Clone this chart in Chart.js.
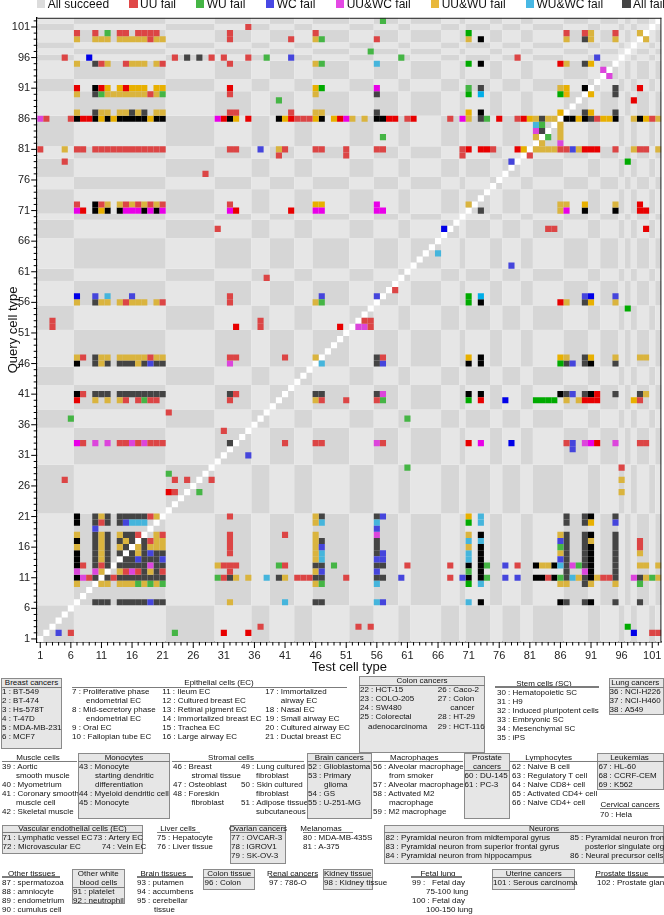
<!DOCTYPE html>
<html>
<head>
<meta charset="utf-8">
<script src="https://cdn.jsdelivr.net/npm/chart.js@4.4.1/dist/chart.umd.min.js"></script>
<style>
  html, body { margin: 0; padding: 0; background: #fff; }
  body { width: 664px; height: 915px; overflow: hidden; position: relative; font-family: 'Liberation Sans', Arial, sans-serif; }
  #chartBox { position: absolute; left: 0; top: 0; width: 664px; height: 679px; }
  .abs { position: absolute; white-space: pre; }
  .leg { font-size: 12px; line-height: 12px; color: #111; }
  .gl { font-size: 8px; line-height: 10px; color: #111; }
  .gbox { position: absolute; box-sizing: border-box; background: #e6e6e6; border: 1px solid #8a8a8a; }
  .gline { position: absolute; height: 1.5px; background: #7c7c7c; }
</style>
</head>
<body>
<div id="chartBox"><canvas id="heatmap" width="664" height="679"></canvas></div>
<div id="topLegend"></div>
<div id="groupLegend"></div>
<script>
// Result categories (legend on top)
var categories = ['All succeed', 'UU fail', 'WU fail', 'WC fail', 'UU&WC fail', 'UU&WU fail', 'WU&WC fail', 'All fail'];
var legendColors = ['#dcdcdc', '#e04848', '#45b545', '#4848e4', '#e448e4', '#e8b83c', '#48b8e4', '#444444'];
var legendBoxX = [37, 129.3, 196, 266, 336, 431, 525.7, 622.3];

// Cell codes: upper case = normal shade, lower case = strong shade
var cellCodes = ['R', 'G', 'B', 'M', 'Y', 'C', 'K'];
var mutedColors = ['#dc4545', '#45b545', '#4545dc', '#dc45dc', '#dab43e', '#45b5dc', '#444444'];
var strongColors = ['#e80000', '#00aa00', '#0000e8', '#e800e8', '#e8b000', '#00aee8', '#000000'];

// Axis ticks (cell type ids) and labelled ticks
var tickValues = [];
for (var t = 1; t <= 102; t++) tickValues.push(t);
var labeledTicks = [1, 6, 11, 16, 21, 26, 31, 36, 41, 46, 51, 56, 61, 66, 71, 76, 81, 86, 91, 96, 101];

// First id of every cell type group (background checkerboard)
var groupStarts = [1, 7, 22, 30, 36, 39, 43, 46, 52, 56, 60, 62, 67, 70, 71, 75, 77, 80, 82, 87, 91, 93, 96, 97, 98, 99, 101, 102];

// Failed cells per query row: [row, 'code+test columns ...']
var failRows = [
  [102, 'G57'],
  [101, 'R35'],
  [100, 'R7 R10 G12 R14-15 R17-20 R32 R46 g71 R87 R90 Y91 R95 Y99'],
  [99, 'Y7 Y10-12 Y14-18 R19 Y20-21 R32 R42 Y46 G47 R56 Y71 k73 Y87 K90 Y91 Y95 Y100'],
  [97, 'G55'],
  [96, 'R5 b9 R23 K25 K27 R29 R31 R35 G38 B42 G60 R79 B92'],
  [95, 'Y7 K10 R11 Y12 R15 Y16-18 Y20 R21 R32 Y46 G47 C56 g71 k73 r86 Y87 K90 y91'],
  [94, 'M93'],
  [93, 'M94'],
  [91, 'r7 k10 r11 y12 y14 r15 y16-18 y20-21 r32 y46 g47 m56 G71 K73 Y86 y87 k90 K95 r99'],
  [90, 'Y7 K10 G11 Y12-18 R19 Y20 G21 R32 Y46 K56 g71 c73 g86 y87 y91 K95'],
  [89, 'G40 r98'],
  [87, 'Y7 K10 Y11-12 Y14-15 K16 Y17 K18 Y20-21 R32-33 R42 Y46-47 K56 y71 k73 y86 K90 y91 K95'],
  [86, 'M1 R2 R6 k7 r8-9 k10 y11 k12 y13 k14-18 y19 k20-21 m30 r31 k32 y33 r35 k40 y41 r42 R43-45 y46 k47 y49 r50 m51 Y52 Y54 k56-57 r58-59 R61 r62 R68 m70 Y71 K73 G74 r76 R79 r80 y81 Y82 K83 Y84-85 k87-88 y89 k90 K91 R92 y93-94 k95 Y98 k99 y100 R101 Y102'],
  [85, 'C82 G83 Y86'],
  [84, 'M82 K83 Y86'],
  [83, 'G57 Y82 G84 Y86'],
  [82, 'Y83 M86'],
  [81, 'R1 Y5 R7-8 R10-21 R32-33 B37 Y40 R41 R46-47 R51 R56-57 R70 r71 r73-74 R75 r79 y80 Y82-85 R86-87 B88 Y89 r90-92 R95 Y98 R99-100 Y102'],
  [80, 'R40 R51 R70 R81'],
  [79, 'R5 B78 g97'],
  [77, 'R28'],
  [72, 'R7 k10 R11 Y12 Y14 R15 Y16 R17 Y18 R19 Y20 R21 R32 y46-47 m56 Y71 Y86-87 y90 Y95 r99'],
  [71, 'm7 r8 k10 y11 k12 k14 m15-17 k18 m19 k20 m21 m32 r33 r42 m46-47 m56-57 K73 Y86 m87 k90 k95 r99-100'],
  [68, 'R30 b67 R84-85 r100'],
  [64, 'C66'],
  [62, 'B78'],
  [60, 'R38'],
  [58, 'R59'],
  [57, 'b7 B10 C12 B16 R32 B47 B56 g71 c73 B90 b91 B95'],
  [56, 'Y7 K10 Y11-12 Y14 R15 Y16-18 Y20 R21 R32 Y46 G47 g71 k73 r86 Y87 K90 y91 Y95'],
  [55, 'g97'],
  [53, 'R3 R37 R54-55'],
  [52, 'R3 r33 R37 r50 M53-54 R55'],
  [47, 'Y7 R8 K10 Y11-12 Y14-18 R19 Y20-21 R32-33 R41 Y46 K56 R57 y71 k73 y86 Y87 K90 y91 Y95 Y99-100'],
  [46, 'k7 K10 Y11 K12 K14-16 Y17 K18 B19 K20-21 M32 C47 K56 B57 k71 k73 g86 K87 B88 K90 k91 K95'],
  [41, 'k7 R8 K10-12 K14-21 K32 R33 K46-47 K56 M57 k71 k73 k86 K87 B88 K90 k91 r92 K95 K99 Y100'],
  [40, 'r7 Y10 Y12 Y14 R15 R17 G18 R19-20 R32 Y46 R47 R51 R56 G57 g71 r73 b77 g82-85 Y87 Y89 r90-92 y98 R99'],
  [38, 'R22'],
  [37, 'G6 G61'],
  [35, 'R31'],
  [33, 'm7 R8 M10 M12 R14-15 M16 R17 M18 R19-21 K32 R41 R46-47 M56 R57 r71 m73 b78 R87 B88 M90 m91 r92 M95 R99-100'],
  [32, 'B88'],
  [31, 'B35'],
  [29, 'G61 R96'],
  [28, 'G22'],
  [27, 'R5 R23 R25 R29 Y96'],
  [25, 'r22 R23 G27 Y96'],
  [21, 'k7 K10 Y11 K12 K14-18 R19 Y20 R32 Y46 K47 K56 B57 y71 C73 K87 K90 k91 K95'],
  [20, 'k7 K10 R11 K12 K14 B15 C16-18 Y46 C47 C56 g71 C73 K87 K90 y91 B95'],
  [19, 'B10 B56'],
  [18, 'Y7 K10 Y11 K12 Y14 K15-16 R17 Y20 R21 R32 R41 Y46 M56 Y71 k73 Y86 K87 K90 k91 K95'],
  [17, 'k7 K10 Y11 K12 K14 Y15 K16 K18 R19 Y20-21 R32 Y46 K47 K56 C71 C73 B86 K87 K90 Y91 K95 R99'],
  [16, 'Y7 K10 Y11 K12 Y14 K15 Y17 K18 Y19 Y20-21 R32 Y46 B47 K56 Y71 k73 G86 K87 K90 k91 K95 R99'],
  [15, 'k7 K10 Y11 K12 K14 K16 Y17 K18 B19 K20-21 R32 Y46 C47 K56 B57 C71 k73 Y86 K87 K90 k91 K95 Y99'],
  [14, 'k7 K10 Y11 K12 K15-16 B17 K18-20 B21 Y46 C47 B56-57 C71 k73 B86 K87 K90 k91 K95'],
  [13, 'k7 R8 K10 R11 K12 K14-18 M19 K20-21 Y30 R31-33 G40 R41 K46-47 G49 K56-57 R61 R68 k71 k73 G74 B77 R79 k82 Y83-84 k85 C86 K87 M88 G89 K90 k91 K95 Y99-100 Y102'],
  [12, 'M7 M10 Y11 Y14 R15 M16 R17 K18 Y19 K20 R21 R32 Y46 B47 B56 G71 k73 K87 M90 k91 K95'],
  [11, 'k7 M8 R9 K10 K12 R13 K14-21 G30 R31 K32 Y33 Y35 C38 K40 Y41 R43-45 K46-47 R51 K56-57 B60 R68 B70 k71 k73 G74 B77 B79 k82-83 R84 k85 G86 K87 C88 Y89 K90 k91 Y92 R93-94 K95 M98 K99 Y100 G101 Y102'],
  [10, 'Y7 Y11-12 Y14-16 G17 Y18 G19 Y20 G21 Y46 G47 C56 g71 C73 Y86-87 K90 Y91 Y95 G99'],
  [7, 'K10-12 K14-18 B19 K20-21 Y32 C41 K46-47 C56 B57 C71 k73 k86 K87 K90 k91 K95 K99'],
  [3, 'R37 R53 R55 g97'],
  [2, 'B4 R6 G23 r31 r35 b98 R101-102']
];

// Build one scatter dataset per colour from the row specs
function buildDatasets() {
  var muted = [], strong = [];
  for (var i = 0; i < cellCodes.length; i++) { muted.push([]); strong.push([]); }
  failRows.forEach(function (entry) {
    var row = entry[0];
    entry[1].split(' ').forEach(function (tok) {
      var code = tok.charAt(0);
      var idx = cellCodes.indexOf(code.toUpperCase());
      var range = tok.slice(1).split('-');
      var a = parseInt(range[0], 10), b = range.length > 1 ? parseInt(range[1], 10) : a;
      for (var c = a; c <= b; c++) {
        (code === code.toUpperCase() ? muted : strong)[idx].push({ x: c, y: row });
      }
    });
  });
  var sets = [];
  for (var k = 0; k < cellCodes.length; k++) {
    sets.push({ label: categories[k + 1], data: muted[k], backgroundColor: mutedColors[k] });
    sets.push({ label: categories[k + 1] + ' (strong)', data: strong[k], backgroundColor: strongColors[k] });
  }
  sets.push({
    label: 'same type',
    data: tickValues.map(function (v) { return { x: v, y: v }; }),
    backgroundColor: '#ffffff'
  });
  return sets;
}

// Half-diagonal of one cell so that a 'rect' point fills the cell
function cellRadius(ctx) {
  var xs = ctx.chart.scales.x;
  if (!xs) return 4.3;
  return Math.abs(xs.getPixelForValue(2) - xs.getPixelForValue(1)) / Math.SQRT2;
}

function groupEnd(i) {
  return (i + 1 < groupStarts.length ? groupStarts[i + 1] : 103) - 1;
}

// Checkerboard of groups under the cells, tick marks and frame on top
var heatmapPlugin = {
  id: 'heatmapDecor',
  beforeDatasetsDraw: function (chart) {
    var ctx = chart.ctx, xs = chart.scales.x, ys = chart.scales.y;
    ctx.save();
    for (var i = 0; i < groupStarts.length; i++) {
      var x0 = xs.getPixelForValue(groupStarts[i] - 0.5);
      var x1 = xs.getPixelForValue(groupEnd(i) + 0.5);
      for (var j = 0; j < groupStarts.length; j++) {
        var y0 = ys.getPixelForValue(groupEnd(j) + 0.5);
        var y1 = ys.getPixelForValue(groupStarts[j] - 0.5);
        ctx.fillStyle = (i + j) % 2 === 0 ? '#d6d6d6' : '#e6e6e6';
        ctx.fillRect(x0, y0, x1 - x0, y1 - y0);
      }
    }
    ctx.restore();
  },
  afterDraw: function (chart) {
    var ctx = chart.ctx, xs = chart.scales.x, ys = chart.scales.y, a = chart.chartArea;
    ctx.save();
    ctx.strokeStyle = '#000';
    ctx.lineWidth = 1;
    ctx.beginPath();
    tickValues.forEach(function (v) {
      var len = labeledTicks.indexOf(v) >= 0 ? 6 : 3.5;
      var px = xs.getPixelForValue(v);
      ctx.moveTo(px, a.bottom);
      ctx.lineTo(px, a.bottom + len);
      var py = ys.getPixelForValue(v);
      ctx.moveTo(a.left - len, py);
      ctx.lineTo(a.left, py);
    });
    ctx.stroke();
    ctx.strokeStyle = '#222';
    ctx.beginPath();
    ctx.moveTo(a.left, a.top + 0.5);
    ctx.lineTo(a.right, a.top + 0.5);
    ctx.moveTo(a.right - 0.5, a.top);
    ctx.lineTo(a.right - 0.5, a.bottom);
    ctx.stroke();
    ctx.restore();
  }
};

function tickLabel(value) {
  return labeledTicks.indexOf(value) >= 0 ? String(value) : '';
}

function setTicks(axis) {
  axis.ticks = tickValues.map(function (v) { return { value: v }; });
}

Chart.defaults.font.family = "'Liberation Sans', Arial, sans-serif";

var heatmap = new Chart(document.getElementById('heatmap').getContext('2d'), {
  type: 'scatter',
  data: { datasets: buildDatasets() },
  plugins: [heatmapPlugin],
  options: {
    responsive: false,
    animation: false,
    events: [],
    layout: { padding: { top: 17.8, right: 2.6, left: 0, bottom: 0 } },
    elements: {
      point: { pointStyle: 'rect', radius: cellRadius, hoverRadius: cellRadius, borderWidth: 0 }
    },
    plugins: { legend: { display: false }, tooltip: { enabled: false } },
    scales: {
      x: {
        type: 'linear', min: 0.5, max: 102.5,
        afterBuildTicks: setTicks,
        afterFit: function (axis) { axis.height = 37; },
        ticks: { autoSkip: false, maxRotation: 0, padding: 1, color: '#222', font: { size: 11 }, callback: tickLabel },
        grid: { drawOnChartArea: false, color: 'transparent', tickLength: 6 },
        border: { color: '#000', width: 1.5 },
        title: { display: true, text: 'Test cell type', color: '#111', font: { size: 13 }, padding: { top: 0, bottom: 4.2 } }
      },
      y: {
        type: 'linear', min: 0.5, max: 102.5,
        afterBuildTicks: setTicks,
        afterFit: function (axis) { axis.width = 37.2; },
        ticks: { autoSkip: false, padding: 1, color: '#222', font: { size: 11 }, callback: tickLabel },
        grid: { drawOnChartArea: false, color: 'transparent', tickLength: 6 },
        border: { color: '#000', width: 1.5 },
        title: { display: true, text: 'Query cell type', color: '#111', font: { size: 13 }, padding: { top: 5.2, bottom: 0 } }
      }
    }
  }
});

// Top legend
function addDiv(parent, cls, x, y, text) {
  var d = document.createElement('div');
  d.className = 'abs ' + cls;
  d.textContent = text;
  d.style.left = x + 'px';
  d.style.top = y + 'px';
  parent.appendChild(d);
  return d;
}

var topLegend = document.getElementById('topLegend');
categories.forEach(function (name, i) {
  var sq = addDiv(topLegend, '', legendBoxX[i], 0, '');
  sq.style.width = '8.3px';
  sq.style.height = '8.3px';
  sq.style.background = legendColors[i];
  addDiv(topLegend, 'leg', legendBoxX[i] + 10.7, -1.9, name);
});

// Cell type legend below the chart
var legendBlocks = [
  { box: [1, 678, 61, 71], title: ['Breast cancers'], tx: 31.5, ty: 683, ul: [1, 62, 687.5],
    cols: [{ x: 2, y: 692, lines: ['1 : BT-549', '2 : BT-474', '3 : Hs-578T', '4 : T-47D', '5 : MDA-MB-231', '6 : MCF7'] }] },
  { title: ['Epithelial cells (EC)'], tx: 219, ty: 683, ul: [72, 347, 687.5],
    cols: [
      { x: 72, y: 692, ind: 14, lines: ['7 : Proliferative phase', '~endometrial EC', '8 : Mid-secretory phase', '~endometrial EC', '9 : Oral EC', '10 : Fallopian tube EC'] },
      { x: 162.3, y: 692, lines: ['11 : Ileum EC', '12 : Cultured breast EC', '13 : Retinal pigment EC', '14 : Immortalized breast EC', '15 : Trachea EC', '16 : Large airway EC'] },
      { x: 265.3, y: 692, ind: 15.5, lines: ['17 : Immortalized', '~airway EC', '18 : Nasal EC', '19 : Small airway EC', '20 : Cultured airway EC', '21 : Ductal breast EC'] }
    ] },
  { box: [358.7, 676, 126.6, 77], title: ['Colon cancers'], tx: 422, ty: 680.5, ul: [358.7, 485.3, 685.3],
    cols: [
      { x: 360, y: 690.3, ind: 8, lines: ['22 : HCT-15', '23 : COLO-205', '24 : SW480', '25 : Colorectal', '~adenocarcinoma'] },
      { x: 437.7, y: 690.3, ind: 12.6, lines: ['26 : Caco-2', '27 : Colon', '~cancer', '28 : HT-29', '29 : HCT-116'] }
    ] },
  { title: ['Stem cells (SC)'], tx: 544, ty: 683.7, ul: [495.3, 598.7, 687],
    cols: [{ x: 497, y: 692.7, lines: ['30 : Hematopoietic SC', '31 : H9', '32 : Induced pluripotent cells', '33 : Embryonic SC', '34 : Mesenchymal SC', '35 : iPS'] }] },
  { box: [608.7, 678, 55.3, 37.3], title: ['Lung cancers'], tx: 635.3, ty: 683, ul: [608.7, 664, 687.5],
    cols: [{ x: 609.5, y: 692, lines: ['36 : NCI-H226', '37 : NCI-H460', '38 : A549'] }] },

  { title: ['Muscle cells'], tx: 38, ty: 758, ul: [1.7, 76.7, 761.3],
    cols: [{ x: 2, y: 767, ind: 14, lines: ['39 : Aortic', '~smooth muscle', '40 : Myometrium', '41 : Coronary smooth', '~muscle cell', '42 : Skeletal muscle'] }] },
  { box: [78.3, 752.7, 91.7, 66], title: ['Monocytes'], tx: 124, ty: 758, ul: [78.3, 170, 761.3],
    cols: [{ x: 79, y: 767, ind: 16, lines: ['43 : Monocyte', '~starting dendritic', '~differentiation', '44 : Myeloid dendritic cell', '45 : Monocyte'] }] },
  { title: ['Stromal cells'], tx: 231, ty: 758, ul: [171.7, 304.3, 761.3],
    cols: [
      { x: 173, y: 767, ind: 18.5, lines: ['46 : Breast', '~stromal tissue', '47 : Osteoblast', '48 : Foreskin', '~fibroblast'] },
      { x: 241, y: 767, ind: 15, lines: ['49 : Lung cultured', '~fibroblast', '50 : Skin cultured', '~fibroblast', '51 : Adipose tissue', '~subcutaneous'] }
    ] },
  { box: [307, 752.7, 64.7, 66], title: ['Brain cancers'], tx: 339.3, ty: 758, ul: [307, 371.7, 761.3],
    cols: [{ x: 308, y: 767, ind: 16, lines: ['52 : Glioblastoma', '53 : Primary', '~glioma', '54 : GS', '55 : U-251-MG'] }] },
  { title: ['Macrophages'], tx: 414.3, ty: 758, ul: [372.7, 462.7, 761.3],
    cols: [{ x: 373, y: 767, ind: 16, lines: ['56 : Alveolar macrophage', '~from smoker', '57 : Alveolar macrophage', '58 : Activated M2', '~macrophage', '59 : M2 macrophage'] }] },
  { box: [463.7, 752.7, 46.6, 66], title: ['Prostate', 'cancers'], tx: 487, ty: 758, ul: [463.7, 510.3, 770.7],
    cols: [{ x: 464.5, y: 776, lines: ['60 : DU-145', '61 : PC-3'] }] },
  { title: ['Lymphocytes'], tx: 548.7, ty: 758, ul: [510.3, 597, 761.3],
    cols: [{ x: 512, y: 767, lines: ['62 : Naive B cell', '63 : Regulatory T cell', '64 : Naive CD8+ cell', '65 : Activated CD4+ cell', '66 : Naive CD4+ cell'] }] },
  { box: [597, 752.7, 67, 37.6], title: ['Leukemias'], tx: 629.5, ty: 758, ul: [597, 664, 761.3],
    cols: [{ x: 598.5, y: 767, lines: ['67 : HL-60', '68 : CCRF-CEM', '69 : K562'] }] },
  { title: ['Cervical cancers'], tx: 630, ty: 804.7, ul: [600, 660, 808.7],
    cols: [{ x: 600, y: 814.7, lines: ['70 : Hela'] }] },

  { box: [1.7, 824.7, 141.6, 29], title: ['Vascular endothelial cells (EC)'], tx: 72.5, ty: 828.7, ul: [1.7, 143.3, 832.5],
    cols: [
      { x: 2.5, y: 837.7, lines: ['71 : Lymphatic vessel EC', '72 : Microvascular EC'] },
      { x: 93.3, y: 837.7, lines: ['73 : Artery EC'] },
      { x: 101.7, y: 846.7, lines: ['74 : Vein EC'] }
    ] },
  { title: ['Liver cells'], tx: 178, ty: 828.7, ul: [156.7, 200, 832.5],
    cols: [{ x: 157, y: 837.7, lines: ['75 : Hepatocyte', '76 : Liver tissue'] }] },
  { box: [230.3, 824.7, 55.7, 39], title: ['Ovarian cancers'], tx: 258, ty: 828.7, ul: [230.3, 286, 832.5],
    cols: [{ x: 231, y: 837.7, lines: ['77 : OVCAR-3', '78 : IGROV1', '79 : SK-OV-3'] }] },
  { title: ['Melanomas'], tx: 321, ty: 828.7, ul: [302.7, 352.7, 832.5],
    cols: [{ x: 303, y: 837.7, lines: ['80 : MDA-MB-435S', '81 : A-375'] }] },
  { box: [384.3, 824.7, 279.7, 39], title: ['Neurons'], tx: 544, ty: 828.7, ul: [384.3, 664, 832.5],
    cols: [
      { x: 385.5, y: 837.7, lines: ['82 : Pyramidal neuron from midtemporal gyrus', '83 : Pyramidal neuron from superior frontal gyrus', '84 : Pyramidal neuron from hippocampus'] },
      { x: 570, y: 837.7, ind: 15, lines: ['85 : Pyramidal neuron from', '~posterior singulate organ', '86 : Neural precursor cells'] }
    ] },

  { title: ['Other tissues'], tx: 31.7, ty: 873.7, ul: [2, 60, 877],
    cols: [{ x: 2, y: 882.7, lines: ['87 : spermatozoa', '88 : amniocyte', '89 : endometrium', '90 : cumulus cell'] }] },
  { box: [71.7, 868.7, 53.3, 35], title: ['Other white', 'blood cells'], tx: 98.3, ty: 873.7, ul: [71.7, 125, 887.5],
    cols: [{ x: 73, y: 892, lines: ['91 : platelet', '92 : neutrophil'] }] },
  { title: ['Brain tissues'], tx: 163.3, ty: 873.7, ul: [136.7, 193.3, 877],
    cols: [{ x: 137, y: 882.7, ind: 17, lines: ['93 : putamen', '94 : accumbens', '95 : cerebellar', '~tissue'] }] },
  { box: [203.3, 868.7, 52, 21.3], title: ['Colon tissue'], tx: 229.3, ty: 873.7, ul: [203.3, 255.3, 877.5],
    cols: [{ x: 204.5, y: 882.7, lines: ['96 : Colon'] }] },
  { title: ['Renal cancers'], tx: 292.7, ty: 873.7, ul: [268.7, 317.7, 877],
    cols: [{ x: 269, y: 882.7, lines: ['97 : 786-O'] }] },
  { box: [322.7, 868.7, 50, 21.3], title: ['Kidney tissue'], tx: 347.7, ty: 873.7, ul: [322.7, 372.7, 877.5],
    cols: [{ x: 324, y: 882.7, lines: ['98 : Kidney tissue'] }] },
  { title: ['Fetal lung'], tx: 438, ty: 873.7, ul: [411, 462, 877],
    cols: [{ x: 412, y: 882.7, ind: 14, lines: ['99 :   Fetal day', '~75-100 lung', '100 : Fetal day', '~100-150 lung'] }] },
  { box: [492, 868.7, 83.3, 21.3], title: ['Uterine cancers'], tx: 533.7, ty: 873.7, ul: [492, 575.3, 877.5],
    cols: [{ x: 493, y: 882.7, lines: ['101 : Serous carcinoma'] }] },
  { title: ['Prostate tissue'], tx: 622, ty: 873.7, ul: [595, 664, 877],
    cols: [{ x: 597, y: 882.7, lines: ['102 : Prostate gland'] }] }
];

var groupLegend = document.getElementById('groupLegend');
legendBlocks.forEach(function (blk) {
  if (blk.box) {
    var b = document.createElement('div');
    b.className = 'gbox';
    b.style.left = blk.box[0] + 'px';
    b.style.top = blk.box[1] + 'px';
    b.style.width = blk.box[2] + 'px';
    b.style.height = blk.box[3] + 'px';
    groupLegend.appendChild(b);
  }
  blk.title.forEach(function (txt, i) {
    var d = addDiv(groupLegend, 'gl', blk.tx, blk.ty - 5 + i * 9, txt);
    d.style.transform = 'translateX(-50%)';
  });
  var u = document.createElement('div');
  u.className = 'gline';
  u.style.left = blk.ul[0] + 'px';
  u.style.top = (blk.ul[2] - 0.75) + 'px';
  u.style.width = (blk.ul[1] - blk.ul[0]) + 'px';
  groupLegend.appendChild(u);
  blk.cols.forEach(function (col) {
    col.lines.forEach(function (line, k) {
      var indent = line.charAt(0) === '~';
      addDiv(groupLegend, 'gl', col.x + (indent ? (col.ind || 0) : 0), col.y - 5 + k * 9.05, indent ? line.slice(1) : line);
    });
  });
});
</script>
</body>
</html>
